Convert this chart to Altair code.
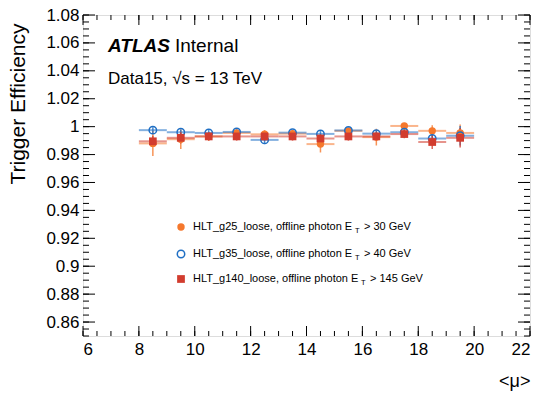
import altair as alt
import pandas as pd

# ---- data ----
mu_centers = [8.5, 9.5, 10.5, 11.5, 12.5, 13.5, 14.5, 15.5, 16.5, 17.5, 18.5, 19.5]
bin_half = 0.5

g25_eff = [0.988, 0.991, 0.993, 0.9955, 0.9945, 0.995, 0.9875, 0.997, 0.9925, 1.0005, 0.997, 0.9955]
g25_err = [0.009, 0.007, 0.003, 0.002, 0.003, 0.002, 0.006, 0.002, 0.006, 0.002, 0.004, 0.006]

g35_eff = [0.9975, 0.996, 0.9955, 0.9962, 0.9905, 0.9957, 0.9948, 0.9973, 0.995, 0.996, 0.9915, 0.9935]
g35_err = [0.002, 0.002, 0.002, 0.002, 0.003, 0.002, 0.002, 0.002, 0.002, 0.003, 0.004, 0.007]

g140_eff = [0.9895, 0.992, 0.993, 0.993, 0.993, 0.993, 0.9915, 0.993, 0.993, 0.9947, 0.989, 0.992]
g140_err = [0.004, 0.004, 0.003, 0.003, 0.003, 0.003, 0.003, 0.003, 0.003, 0.003, 0.005, 0.007]

series_names = ["g25", "g35", "g140"]
series_colors = ["#f5782d", "#1f6fc4", "#d23c2e"]
legend_labels = [
    ("HLT_g25_loose, offline photon E", "> 30 GeV"),
    ("HLT_g35_loose, offline photon E", "> 40 GeV"),
    ("HLT_g140_loose, offline photon E", "> 145 GeV"),
]

x_domain = [6, 22]
y_domain = [0.85, 1.08]
x_major = list(range(6, 23, 2))
x_minor = [6 + 0.5 * i for i in range(33)]
y_major = [round(0.86 + 0.02 * i, 3) for i in range(12)]
y_minor = [round(0.85 + 0.005 * i, 4) for i in range(47)]

W, H = 447, 321
FONT = "Liberation Sans"

rows = []
for name, eff, err in [("g25", g25_eff, g25_err), ("g35", g35_eff, g35_err), ("g140", g140_eff, g140_err)]:
    for m, e, d in zip(mu_centers, eff, err):
        rows.append({"series": name, "mu": m, "lo": m - bin_half, "hi": m + bin_half,
                     "eff": e, "elo": e - d, "ehi": e + d})
df = pd.DataFrame(rows)

xs = alt.Scale(domain=x_domain, nice=False, zero=False)
ys = alt.Scale(domain=y_domain, nice=False, zero=False)
cscale = alt.Scale(domain=series_names, range=series_colors)

axis_x = alt.Axis(values=x_major, ticks=False, domain=False, grid=False, labelFontSize=17,
                  labelFont=FONT, labelColor="black", labelPadding=5, title="<μ>",
                  titleFont=FONT, titleFontSize=18, titleFontWeight="normal", titleAnchor="end",
                  titleBaseline="alphabetic", titleY=50, titleColor="black")
axis_y = alt.Axis(values=y_major, ticks=False, domain=False, grid=False, labelFontSize=17,
                  labelFont=FONT, labelColor="black", labelPadding=4, title="Trigger Efficiency",
                  titleFont=FONT, titleFontSize=21, titleFontWeight="normal", titleAnchor="end",
                  titleX=-55, titleY=8, titleColor="black", labelExpr="format(datum.value, '~g')")

def X(f):
    return alt.X(f, scale=xs, axis=axis_x)

def Y(f):
    return alt.Y(f, scale=ys, axis=axis_y)

base = alt.Chart(df)

hbars = base.mark_rule(strokeWidth=2, opacity=0.55).encode(
    x=X("lo:Q"), x2="hi:Q", y=Y("eff:Q"),
    color=alt.Color("series:N", scale=cscale, legend=None),
)
vbars = base.mark_rule(strokeWidth=1.5, opacity=0.8).encode(
    x=X("mu:Q"), y=Y("elo:Q"), y2="ehi:Q",
    color=alt.Color("series:N", scale=cscale, legend=None),
)

p25 = base.transform_filter("datum.series == 'g25'").mark_point(
    shape="circle", filled=True, size=55, opacity=1, color=series_colors[0]).encode(
    x=X("mu:Q"), y=Y("eff:Q"))
p35 = base.transform_filter("datum.series == 'g35'").mark_point(
    shape="circle", filled=False, size=55, strokeWidth=1.5, opacity=1, color=series_colors[1]).encode(
    x=X("mu:Q"), y=Y("eff:Q"))
p140 = base.transform_filter("datum.series == 'g140'").mark_point(
    shape="square", filled=True, size=60, opacity=1, color=series_colors[2]).encode(
    x=X("mu:Q"), y=Y("eff:Q"))

# ---- inner ticks (ROOT style) ----
def xticks(vals, y0, y1):
    return alt.Chart(pd.DataFrame({"t": vals})).mark_rule(color="black", strokeWidth=1).encode(
        x=X("t:Q"), y=alt.value(y0), y2=alt.value(y1))

def yticks(vals, x0, x1):
    return alt.Chart(pd.DataFrame({"t": vals})).mark_rule(color="black", strokeWidth=1).encode(
        y=Y("t:Q"), x=alt.value(x0), x2=alt.value(x1))

ticks = [
    xticks(x_major, H, H - 10), xticks(x_minor, H, H - 5),
    xticks(x_major, 0, 10), xticks(x_minor, 0, 5),
    yticks(y_major, 0, 12), yticks(y_minor, 0, 6),
    yticks(y_major, W, W - 12), yticks(y_minor, W, W - 6),
]

# ---- labels ----
def txt(s, x, y, size, weight="normal", style="normal", baseline="alphabetic", align="left"):
    return alt.Chart(pd.DataFrame({"s": [s]})).mark_text(
        font=FONT, fontSize=size, fontWeight=weight, fontStyle=style, baseline=baseline,
        align=align, color="black").encode(text="s:N", x=alt.value(x), y=alt.value(y))

labels = [
    txt("ATLAS", 25, 37, 19, weight="bold", style="italic"),
    txt("Internal", 92, 37, 19),
    txt("Data15, √s = 13 TeV", 25, 69, 17),
]

legend_y = [212, 239, 264]
leg_layers = []
leg_df = pd.DataFrame({"series": series_names, "ly": legend_y})
leg_shapes = [("circle", True), ("circle", False), ("square", True)]
for i, (shp, filled) in enumerate(leg_shapes):
    leg_layers.append(alt.Chart(leg_df.iloc[[i]]).mark_point(
        shape=shp, filled=filled, size=55 if shp == "circle" else 60, strokeWidth=1.5,
        opacity=1, color=series_colors[i]).encode(x=alt.value(98), y=alt.value(legend_y[i])))
    main, tail = legend_labels[i]
    ex = 272 if i < 2 else 278
    leg_layers.append(txt(main, 110, legend_y[i], 11, baseline="middle"))
    leg_layers.append(txt("T", ex, legend_y[i] + 4, 7.5, baseline="middle"))
    leg_layers.append(txt(tail, ex + 9, legend_y[i], 11, baseline="middle"))

chart = alt.layer(hbars, vbars, p25, p35, p140, *ticks, *labels, *leg_layers).properties(
    width=W, height=H,
    autosize=alt.AutoSizeParams(type="none"),
    padding={"left": 75, "top": 7, "right": 3, "bottom": 58},
).configure_view(stroke="black", strokeWidth=1.2).configure(background="white")

chart.save("out.html", embed_options={"renderer": "svg", "actions": False})
